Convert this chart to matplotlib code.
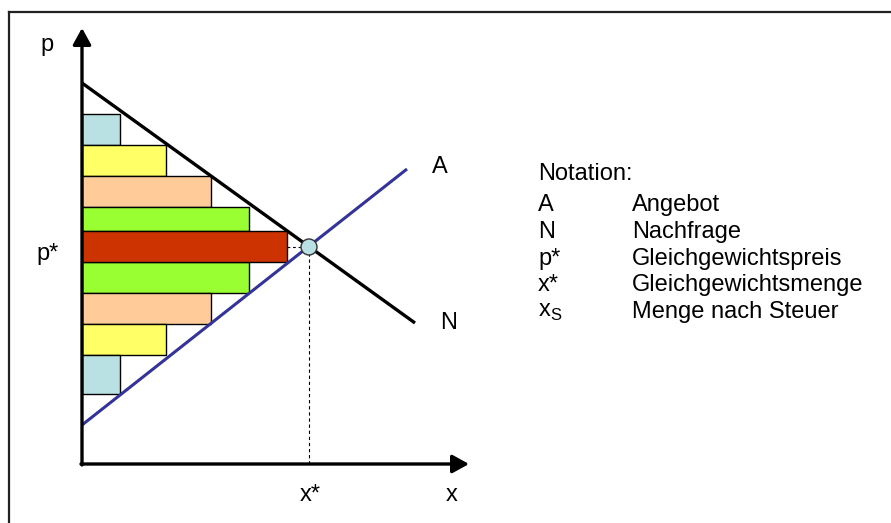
import matplotlib
matplotlib.use('Agg')
import matplotlib.pyplot as plt
from matplotlib.patches import Circle

plt.rcParams['font.family'] = ['Liberation Sans', 'DejaVu Sans']
plt.rcParams['font.size'] = 17

# demand (N) and supply (A) lines, origin at the axes corner
demand_x = [0, 333]
demand_p = [381, 141]
supply_x = [0, 325]
supply_p = [39, 295]

# equilibrium
x_star = 227
p_star = 217

# willingness-to-pay bars (bottom, top, width), stacked along the p axis
bar_bottoms = [319, 288, 257, 233, 171, 140, 109, 70, 202]
bar_tops = [350, 319, 288, 257, 202, 171, 140, 109, 233]
bar_widths = [38, 84, 129, 167, 167, 129, 84, 38, 205]
bar_colors = ['#b9e0e3', '#ffff66', '#ffcc99', '#99ff33',
              '#99ff33', '#ffcc99', '#ffff66', '#b9e0e3', '#cc3300']

notation_symbols = ['A', 'N', 'p*', 'x*', r'x$_\mathregular{S}$']
notation_text = ['Angebot', 'Nachfrage', 'Gleichgewichtspreis',
                 'Gleichgewichtsmenge', 'Menge nach Steuer']

fig = plt.figure(figsize=(8.91, 5.23), dpi=100)
ax = fig.add_axes([0, 0, 1, 1])
ax.set_xlim(-82, 809)
ax.set_ylim(-59, 464)
ax.axis('off')

# outer frame (top and left edges only)
ax.plot([-73, 809], [452, 452], color='#222222', lw=1.6, clip_on=False)
ax.plot([-73, -73], [452, -59], color='#222222', lw=1.6, clip_on=False)

heights = [t - b for b, t in zip(bar_bottoms, bar_tops)]
ax.barh(bar_bottoms, bar_widths, height=heights, left=0, align='edge',
        color=bar_colors, edgecolor='black', linewidth=1, zorder=2)

ax.plot(demand_x, demand_p, color='black', lw=2.4, solid_capstyle='butt', zorder=3)
ax.plot(supply_x, supply_p, color='#333399', lw=2.2, solid_capstyle='butt', zorder=3)

# guide lines to the equilibrium
ax.plot([205, x_star], [p_star, p_star], color='black', lw=0.8, ls=(0, (2.5, 2.5)), zorder=2)
ax.plot([x_star, x_star], [0, p_star], color='black', lw=0.8, ls=(0, (3, 2.5)), zorder=2)
ax.add_patch(Circle((x_star, p_star), 8, facecolor='#b9e0e3', edgecolor='#333333',
                    lw=1, zorder=5))

# axes with arrowheads
arrow = dict(arrowstyle='-|>,head_length=1.0,head_width=0.55', color='black',
             lw=2.4, shrinkA=0, shrinkB=0, mutation_scale=10)
ax.annotate('', xy=(0, 436), xytext=(0, -1), arrowprops=arrow, zorder=4)
ax.annotate('', xy=(387, 0), xytext=(-1, 0), arrowprops=arrow, zorder=4)

ax.text(-35, 419, 'p', ha='center', va='center')
ax.text(-34, 210, 'p*', ha='center', va='center')
ax.text(358, 297, 'A', ha='center', va='center')
ax.text(367, 141, 'N', ha='center', va='center')
ax.text(x_star + 1, -31, 'x*', ha='center', va='center')
ax.text(370, -31, 'x', ha='center', va='center')

ax.text(456, 290, 'Notation:', ha='left', va='center')
for i, (sym, txt) in enumerate(zip(notation_symbols, notation_text)):
    y = 259 - i * 26.8
    ax.text(456, y, sym, ha='left', va='center')
    ax.text(550, y, txt, ha='left', va='center')

fig.savefig('out.png', dpi=100)
